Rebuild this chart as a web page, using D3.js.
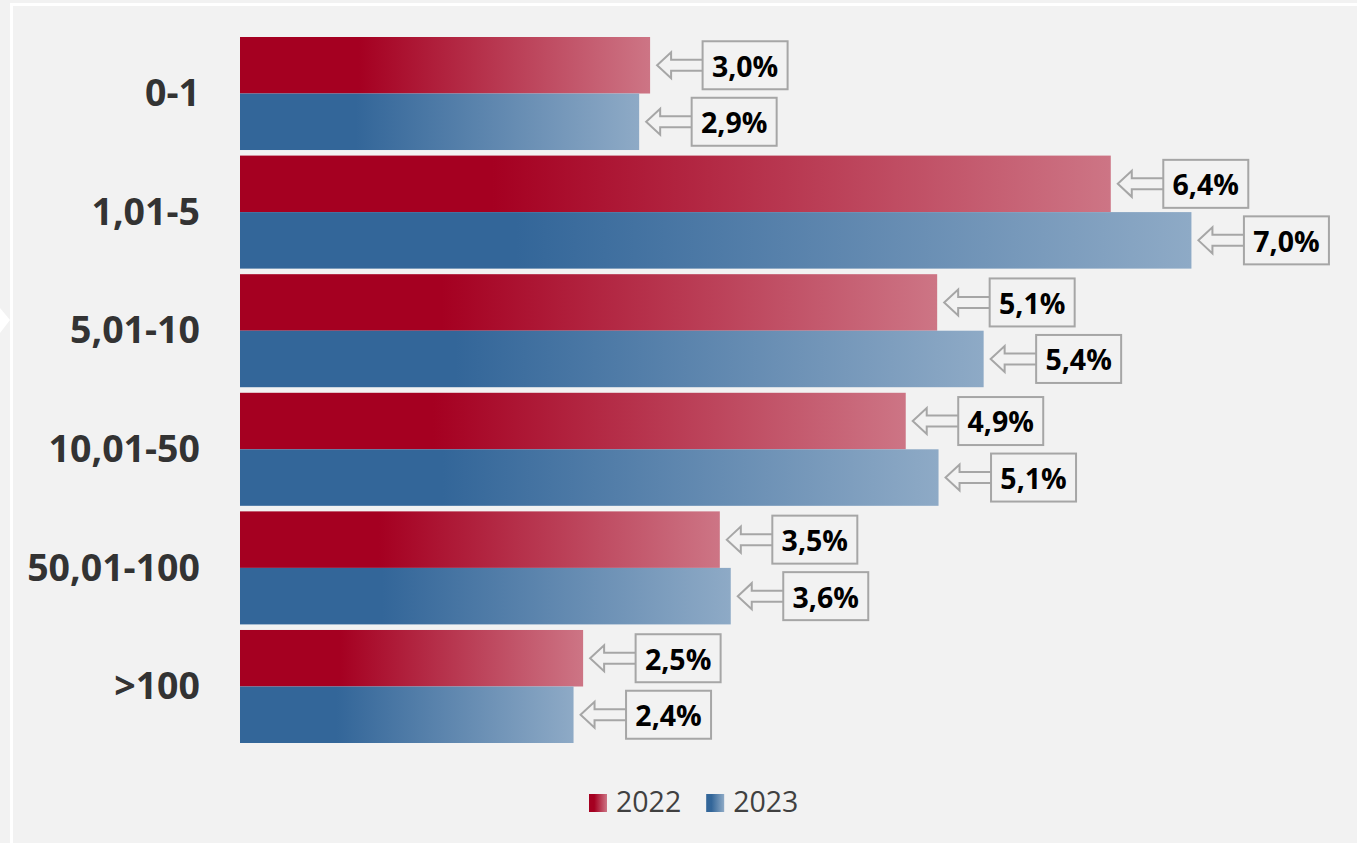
<!DOCTYPE html>
<html>
<head>
<meta charset="utf-8">
<script src="https://cdn.jsdelivr.net/npm/d3@7"></script>
<style>
  html, body { margin: 0; padding: 0; background: #f2f2f2; }
  svg { display: block; }
  text { font-family: "Open Sans", sans-serif; }
</style>
</head>
<body>
<script>
// ---- data ----
const categories = ["0-1", "1,01-5", "5,01-10", "10,01-50", "50,01-100", ">100"];
const seriesNames = ["2022", "2023"];
const values2022 = [3.00, 6.37, 5.10, 4.87, 3.51, 2.51];
const values2023 = [2.92, 6.96, 5.44, 5.11, 3.59, 2.44];
const xTickDomain = [0, 8];

const W = 1357, H = 843;
const svg = d3.select("body").append("svg").attr("width", W).attr("height", H);

// frame
svg.append("rect").attr("x", 0).attr("y", 0).attr("width", W).attr("height", H).attr("fill", "#f2f2f2");
svg.append("rect").attr("x", 11.5).attr("y", 4.5).attr("width", W + 20).attr("height", H + 20)
  .attr("fill", "#f2f2f2").attr("stroke", "#ffffff").attr("stroke-width", 3);
svg.append("path").attr("d", "M0,308 L10,320 L0,333 Z").attr("fill", "#ffffff");

// gradients
const defs = svg.append("defs");
const grads = {
  "2022": ["#a50021", "#cd7585"],
  "2023": ["#336699", "#8eaac6"]
};
seriesNames.forEach(s => {
  const g = defs.append("linearGradient").attr("id", "g" + s)
    .attr("x1", "0%").attr("x2", "100%").attr("y1", "0%").attr("y2", "0%");
  g.append("stop").attr("offset", "0%").attr("stop-color", grads[s][0]);
  g.append("stop").attr("offset", "29%").attr("stop-color", grads[s][0]);
  g.append("stop").attr("offset", "100%").attr("stop-color", grads[s][1]);
});

// scales
const x0 = 240, pxPerUnit = 136.7;
const x = d3.scaleLinear().domain(xTickDomain).range([x0, x0 + (xTickDomain[1] - xTickDomain[0]) * pxPerUnit]);
const y = d3.scaleBand().domain(categories).range([37, 743]).paddingInner(0.047).paddingOuter(0);
const ySub = d3.scaleBand().domain(seriesNames).range([0, y.bandwidth()]).padding(0);

const rows = [];
categories.forEach((c, i) => {
  rows.push({ cat: c, s: "2022", v: values2022[i] });
  rows.push({ cat: c, s: "2023", v: values2023[i] });
});

// bars
svg.append("g").selectAll("rect").data(rows).join("rect")
  .attr("x", x(0))
  .attr("y", d => y(d.cat) + ySub(d.s))
  .attr("width", d => x(d.v) - x(0))
  .attr("height", ySub.bandwidth())
  .attr("fill", d => "url(#g" + d.s + ")");

// category labels
svg.append("g").selectAll("text").data(categories).join("text")
  .attr("x", 200)
  .attr("y", d => y(d) + y.bandwidth() / 2)
  .attr("dy", "0.34em")
  .attr("text-anchor", "end")
  .attr("font-size", 37.5)
  .attr("font-weight", 700)
  .attr("fill", "#333333")
  .text(d => d);

// callouts
const fmt = v => d3.format(".1f")(v).replace(".", ",") + "%";
const boxW = 85, boxH = 48;
const call = svg.append("g").selectAll("g").data(rows).join("g")
  .attr("transform", d => `translate(${x(d.v)},${y(d.cat) + ySub(d.s) + ySub.bandwidth() / 2})`);
call.append("path")
  .attr("d", () => {
    const tip = 7, hx = tip + 14, bl = 52.5;
    return `M${bl},-5.5 L${hx},-5.5 L${hx},-13 L${tip},0 L${hx},13 L${hx},5.5 L${bl},5.5`;
  })
  .attr("fill", "#f2f2f2").attr("stroke", "#a6a6a6").attr("stroke-width", 2);
call.append("rect")
  .attr("x", 52.5).attr("y", -boxH / 2).attr("width", boxW).attr("height", boxH)
  .attr("fill", "#f2f2f2").attr("stroke", "#a6a6a6").attr("stroke-width", 2);
call.append("text")
  .attr("x", 52.5 + boxW / 2).attr("y", 0).attr("dy", "0.4em")
  .attr("text-anchor", "middle")
  .attr("font-size", 28.5).attr("font-weight", 700).attr("fill", "#000000")
  .text(d => fmt(d.v));

// legend
const legend = svg.append("g");
let lx = 589;
seriesNames.forEach(s => {
  legend.append("rect").attr("x", lx).attr("y", 794).attr("width", 18).attr("height", 18)
    .attr("fill", "url(#g" + s + ")");
  const t = legend.append("text").attr("x", lx + 27).attr("y", 812)
    .attr("font-size", 28.5).attr("fill", "#404040").text(s);
  lx = lx + 27 + t.node().getComputedTextLength() + 25;
});
</script>
</body>
</html>
